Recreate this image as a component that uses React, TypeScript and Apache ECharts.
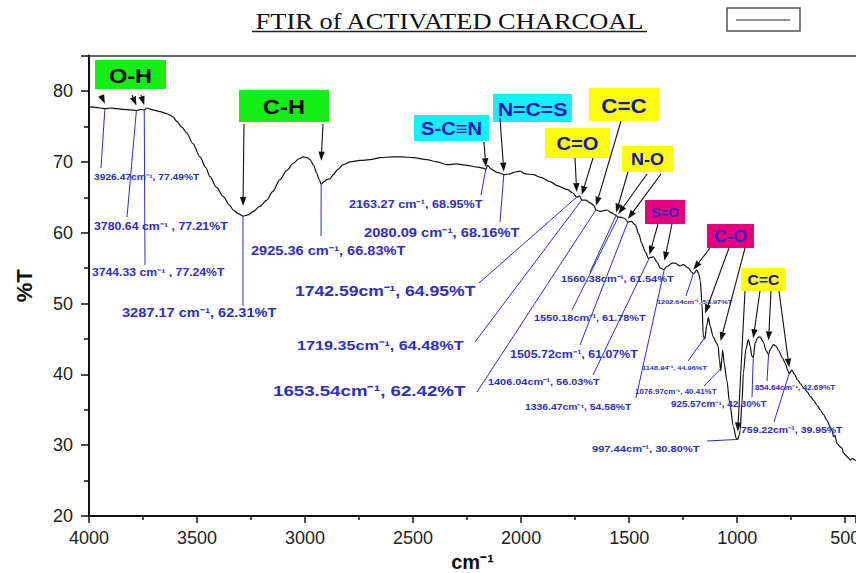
import React, { useEffect, useRef } from "react";
import * as echarts from "echarts";

// ---------- DATA ----------
const wavenumbers = [
  4000, 3970, 3949, 3926, 3900, 3870, 3840, 3810, 3780, 3760, 3744, 3733, 3700, 3671, 3640, 3625, 3610, 3594, 3570, 3548,
  3520, 3486, 3460, 3440, 3410, 3378, 3350, 3332, 3310, 3287, 3265, 3239, 3210, 3177, 3150, 3116, 3085, 3054, 3030, 3008,
  2990, 2977, 2960, 2946, 2935, 2925, 2912, 2900, 2885, 2869, 2850, 2823, 2790, 2745, 2700, 2650, 2591, 2550, 2500, 2437,
  2390, 2344, 2300, 2250, 2200, 2175, 2163, 2155, 2140, 2110, 2080, 2050, 2037, 2005, 1980, 1944, 1910, 1866, 1830, 1787,
  1760, 1742, 1730, 1719, 1700, 1680, 1665, 1653, 1634, 1620, 1603, 1580, 1565, 1550, 1542, 1520, 1505, 1490, 1472, 1455,
  1442, 1425, 1411, 1400, 1388, 1370, 1356, 1340, 1326, 1300, 1287, 1265, 1249, 1225, 1210, 1202, 1187, 1178, 1171, 1163,
  1157, 1150, 1140, 1133, 1125, 1111, 1095, 1088, 1082, 1076, 1070, 1067, 1060, 1048, 1035, 1017, 1005, 997, 990, 986,
  978, 971, 960, 948, 940, 932, 925, 917, 905, 894, 880, 865, 855, 845, 832, 820, 809, 790, 778, 765,
  759, 747, 735, 720, 708, 690, 675, 662, 645, 630, 616, 600, 585, 569, 560, 554, 547, 539, 525, 515,
  508, 495, 485, 477, 465, 454, 450,
];
const transmittance = [
  77.8, 77.7, 77.6, 77.5, 77.6, 77.5, 77.4, 77.35, 77.25, 77.4, 77.3, 77.6, 77.3, 77.1, 76.8, 76.6, 76.3, 75.7, 74.9, 74.1,
  72.6, 70.7, 69.2, 67.9, 66.4, 65.1, 63.9, 63.2, 62.7, 62.35, 62.5, 63.0, 63.7, 64.6, 65.8, 67.5, 68.8, 69.8, 70.4, 70.7,
  70.6, 70.3, 69.5, 68.4, 67.5, 66.9, 67.2, 67.5, 67.6, 68.2, 68.9, 69.6, 70.0, 70.2, 70.3, 70.6, 70.7, 70.7, 70.6, 70.3,
  70.0, 69.6, 69.7, 69.5, 69.25, 69.1, 68.95, 69.5, 69.0, 68.5, 68.2, 68.3, 68.5, 68.7, 68.3, 68.2, 67.8, 67.2, 66.6, 66.1,
  65.6, 65.0, 65.2, 64.6, 64.6, 64.2, 63.9, 63.2, 63.0, 63.1, 63.2, 62.8, 62.5, 62.2, 62.2, 62.0, 61.5, 61.6, 61.1, 59.8,
  58.5, 57.3, 56.4, 56.5, 56.6, 55.8, 55.0, 54.8, 55.2, 55.7, 55.7, 55.3, 55.5, 55.0, 54.4, 54.2, 54.7, 54.2, 53.3, 50.0,
  45.5, 45.0, 47.0, 48.0, 46.8, 45.3, 44.4, 43.9, 42.0, 40.5, 42.5, 43.4, 41.5, 39.2, 36.0, 32.6, 31.0, 30.8, 31.5, 32.1,
  36.0, 40.2, 43.5, 44.9, 44.0, 42.6, 42.4, 44.4, 45.2, 45.3, 44.6, 43.3, 42.8, 43.6, 44.2, 44.0, 43.4, 42.3, 41.6, 40.5,
  40.1, 40.6, 40.0, 39.2, 38.7, 38.0, 37.5, 36.9, 36.3, 35.6, 35.0, 34.3, 33.5, 32.6, 32.0, 31.2, 31.4, 30.3, 29.8, 29.6,
  28.9, 28.5, 28.2, 27.9, 28.1, 27.9, 27.8,
];

const peakWavenumbers = [
  3926.47, 3780.64, 3744.33, 3287.17, 2925.36, 2163.27, 2080.09, 1742.59, 1719.35, 1653.54, 1560.38,
  1550.18, 1505.72, 1406.04, 1336.47, 1202.64, 1148.94, 1076.97, 997.44, 925.57, 854.64, 759.22,
];
const peakTransmittance = [
  77.49, 77.21, 77.24, 62.31, 66.83, 68.95, 68.16, 64.95, 64.48, 62.42, 61.54,
  61.78, 61.07, 56.03, 54.58, 53.97, 44.96, 40.41, 30.8, 42.3, 42.69, 39.95,
];
const peakLabels = [
  "3926.47cm⁻¹, 77.49%T",
  "3780.64 cm⁻¹ , 77.21%T",
  "3744.33 cm⁻¹ , 77.24%T",
  "3287.17 cm⁻¹, 62.31%T",
  "2925.36 cm⁻¹, 66.83%T",
  "2163.27 cm⁻¹, 68.95%T",
  "2080.09 cm⁻¹, 68.16%T",
  "1742.59cm⁻¹, 64.95%T",
  "1719.35cm⁻¹, 64.48%T",
  "1653.54cm⁻¹, 62.42%T",
  "1560.38cm⁻¹, 61.54%T",
  "1550.18cm⁻¹, 61.78%T",
  "1505.72cm⁻¹, 61.07%T",
  "1406.04cm⁻¹, 56.03%T",
  "1336.47cm⁻¹, 54.58%T",
  "1202.64cm⁻¹, 53.97%T",
  "1148.94⁻¹, 44.96%T",
  "1076.97cm⁻¹, 40.41%T",
  "997.44cm⁻¹, 30.80%T",
  "925.57cm⁻¹, 42.30%T",
  "854.64cm⁻¹, 42.69%T",
  "759.22cm⁻¹, 39.95%T",
];
const groupNames = ["O-H", "C-H", "S-C≡N", "N=C=S", "C=C", "C=O", "N-O", "S=O", "C-O", "C=C"];
// which peaks each group box points at
const groupPeaks = [[0, 1, 2], [3, 4], [5], [6], [9], [7, 8], [10, 11, 12], [13, 14], [15, 16, 17], [18, 19, 20, 21]];

const titleText = "FTIR of ACTIVATED CHARCOAL";
const xAxisTitle = "cm⁻¹";
const yAxisTitle = "%T";

// ---------- LAYOUT (pixels) ----------
const BLUE = "#2d2dc8";
const GREEN = "#14ee14";
const CYAN = "#14eeff";
const YELLOW = "#ffff00";
const MAGENTA = "#e6007e";
const STRETCH = 1.2;
const LABEL_SCALE = 0.9;

// box: x, y, w, h, fill, text color, font size
const boxLayout = [
  [95, 60, 71, 29, GREEN, "#000", 21],
  [239, 90, 90, 32, GREEN, "#000", 21],
  [414, 115, 75, 26, CYAN, "#1414b8", 18],
  [493, 94, 79, 28, CYAN, "#1414b8", 19],
  [589, 88, 70, 33, YELLOW, "#1414b8", 20],
  [545, 128, 65, 30, YELLOW, "#1414b8", 18],
  [622, 146, 51, 26, YELLOW, "#1414b8", 16],
  [645, 200, 40, 24, MAGENTA, "#3a22c8", 12],
  [707, 224, 47, 24, MAGENTA, "#3a22c8", 16],
  [741, 268, 45, 23, YELLOW, "#1414b8", 14],
];
// arrow tails per group (pixel) and gap above the curve at the tip
const arrowTails = [
  [[101, 95], [132, 95], [141, 95]],
  [[244, 124], [323, 124]],
  [[484, 142]],
  [[500, 118]],
  [[621, 121]],
  [[575, 158], [593, 158]],
  [[628, 172], [647, 174], [661, 174]],
  [[658, 224], [672, 224]],
  [[710, 248], [729, 248], [745, 248]],
  [[745, 291], [760, 291], [771, 291], [779, 291]],
];
const arrowGaps = [
  [5, 5, 5], [10, 23], [2], [3], [4], [5, 5], [3, 3, 3], [3, 8], [4, 24, 28], [8, 19, 14, 6],
];
// leader end (pixel), label left x, label center y, font size
const labelLayout = [
  [101, 168, 94, 177, 9.5],
  [127, 217, 94, 226, 11.4],
  [145, 265, 92, 272, 11.3],
  [243, 306, 122, 313, 13.5],
  [321, 236, 251, 251, 13.5],
  [481, 195, 349, 204, 11.7],
  [500, 222, 364, 233, 13.6],
  [479, 283, 295, 291, 16.3],
  [475, 342, 297, 345, 15],
  [477, 392, 273, 391, 17.3],
  [590, 272, 561, 279, 10.2],
  [572, 310, 534, 318, 10.1],
  [580, 345, 510, 354, 11.5],
  [593, 375, 488, 382, 10.1],
  [636, 398, 525, 407, 9.6],
  [686, 296, 657, 302, 6.8],
  [688, 361, 642, 368, 6.9],
  [704, 386, 635, 392, 7.4],
  [707, 441, 592, 449, 10.3],
  [752, 397, 671, 404, 9.1],
  [767, 381, 755, 388, 7.6],
  [774, 422, 741, 430, 9.7],
];

const FONT = "'Liberation Sans', Arial, Helvetica, sans-serif";

function curveAt(wn: number): number {
  for (let i = 0; i < wavenumbers.length - 1; i++) {
    const a = wavenumbers[i];
    const b = wavenumbers[i + 1];
    if (wn <= a && wn >= b) {
      const f = (a - wn) / (a - b);
      return transmittance[i] + f * (transmittance[i + 1] - transmittance[i]);
    }
  }
  return transmittance[transmittance.length - 1];
}

export default function App() {
  const ref = useRef<HTMLDivElement>(null);

  useEffect(() => {
    if (!ref.current) return;
    const chart = echarts.init(ref.current, null, { renderer: "svg" });
    const seriesData = wavenumbers.map((w, i) => [w, transmittance[i]]);

    chart.setOption({
      animation: false,
      backgroundColor: "#ffffff",
      grid: {
        left: 89,
        right: 0,
        top: 55.6,
        bottom: 57,
        containLabel: false,
        outerBoundsMode: "none",
      },
      xAxis: [
        {
          type: "value",
          inverse: true,
          min: 450,
          max: 4000,
          splitNumber: 7,
          name: xAxisTitle,
          nameLocation: "middle",
          nameGap: 36,
          nameTextStyle: { fontFamily: FONT, fontWeight: "bold", fontSize: 20, color: "#111" },
          axisLine: { show: true, lineStyle: { color: "#111", width: 2 } },
          axisTick: { show: true, inside: false, length: 7, lineStyle: { color: "#111", width: 1.5 } },
          minorTick: { show: true, splitNumber: 2, length: 4, lineStyle: { color: "#111", width: 1.5 } },
          axisLabel: {
            fontFamily: FONT,
            fontSize: 18,
            color: "#222",
            margin: 13,
            showMinLabel: false,
            hideOverlap: false,
            formatter: (v: number) => String(v),
          },
          splitLine: { show: false },
        },
        {
          type: "value",
          position: "top",
          inverse: true,
          min: 450,
          max: 4000,
          axisLine: { show: true, lineStyle: { color: "#333", width: 1.5 } },
          axisTick: { show: false },
          axisLabel: { show: false },
          splitLine: { show: false },
        },
      ],
      yAxis: {
        type: "value",
        min: 20,
        max: 85,
        interval: 10,
        name: yAxisTitle,
        nameLocation: "middle",
        nameGap: 54,
        nameRotate: 90,
        nameTextStyle: { fontFamily: FONT, fontWeight: "bold", fontSize: 22, color: "#111" },
        axisLine: { show: true, lineStyle: { color: "#111", width: 2 } },
        axisTick: { show: true, inside: false, length: 8, lineStyle: { color: "#111", width: 1.5 } },
        minorTick: { show: true, splitNumber: 2, length: 5, lineStyle: { color: "#111", width: 1.5 } },
        axisLabel: {
          fontFamily: FONT,
          fontSize: 18,
          color: "#222",
          margin: 16,
          showMaxLabel: false,
          formatter: (v: number) => String(v),
        },
        splitLine: { show: false },
      },
      series: [
        {
          type: "line",
          data: seriesData,
          xAxisIndex: 0,
          yAxisIndex: 0,
          showSymbol: false,
          smooth: 0.3,
          smoothMonotone: "x",
          lineStyle: { color: "#111", width: 1.2 },
          silent: true,
        },
      ],
    });

    const toPx = (wn: number, t: number) =>
      chart.convertToPixel({ seriesIndex: 0 }, [wn, t]) as unknown as number[];

    const elements: any[] = [];

    // title
    elements.push({
      type: "text",
      x: 449.5,
      y: 21,
      scaleX: 1.15,
      z: 20,
      silent: true,
      style: {
        text: titleText,
        fill: "#111",
        fontFamily: "'Liberation Serif', 'Times New Roman', serif",
        fontSize: 23,
        align: "center",
        verticalAlign: "middle",
        textAlign: "center",
        textVerticalAlign: "middle",
      },
    });
    elements.push({
      type: "line",
      z: 20,
      silent: true,
      shape: { x1: 252, y1: 31.5, x2: 647, y2: 31.5 },
      style: { stroke: "#222", lineWidth: 1.5 },
    });
    // legend box
    elements.push({
      type: "rect",
      z: 20,
      silent: true,
      shape: { x: 727, y: 8, width: 73, height: 23 },
      style: { fill: "#fff", stroke: "#555", lineWidth: 1.5 },
    });
    elements.push({
      type: "line",
      z: 21,
      silent: true,
      shape: { x1: 736, y1: 20, x2: 790, y2: 20 },
      style: { stroke: "#222", lineWidth: 1 },
    });

    // leader lines + labels
    peakWavenumbers.forEach((wn, i) => {
      const p = toPx(wn, curveAt(wn));
      const [ex, ey, lx, ly, fs] = labelLayout[i];
      elements.push({
        type: "line",
        z: 15,
        silent: true,
        shape: { x1: p[0], y1: p[1], x2: ex, y2: ey },
        style: { stroke: BLUE, lineWidth: 1 },
      });
      elements.push({
        type: "text",
        x: lx,
        y: ly,
        scaleX: STRETCH,
        z: 16,
        silent: true,
        style: {
          text: peakLabels[i],
          fill: BLUE,
          fontFamily: FONT,
          fontWeight: "bold",
          fontSize: fs * LABEL_SCALE,
          align: "left",
          verticalAlign: "middle",
          textAlign: "left",
          textVerticalAlign: "middle",
        },
      });
    });

    // group boxes + arrows
    groupNames.forEach((name, g) => {
      const [bx, by, bw, bh, fill, tc, fs] = boxLayout[g] as [number, number, number, number, string, string, number];
      elements.push({
        type: "rect",
        z: 17,
        silent: true,
        shape: { x: bx, y: by, width: bw, height: bh },
        style: { fill },
      });
      elements.push({
        type: "text",
        x: bx + bw / 2,
        y: by + bh / 2 + 1,
        scaleX: 1.12,
        z: 18,
        silent: true,
        style: {
          text: name,
          fill: tc,
          fontFamily: FONT,
          fontWeight: "bold",
          fontSize: fs,
          align: "center",
          verticalAlign: "middle",
          textAlign: "center",
          textVerticalAlign: "middle",
        },
      });
      groupPeaks[g].forEach((pi, k) => {
        const wn = peakWavenumbers[pi];
        const p = toPx(wn, curveAt(wn));
        const tip = [p[0], p[1] - arrowGaps[g][k]];
        const tail = arrowTails[g][k];
        const dx = tip[0] - tail[0];
        const dy = tip[1] - tail[1];
        const len = Math.sqrt(dx * dx + dy * dy) || 1;
        const ux = dx / len;
        const uy = dy / len;
        const headL = Math.min(9, len);
        const headW = 3.2;
        const bxp = tip[0] - ux * headL;
        const byp = tip[1] - uy * headL;
        elements.push({
          type: "line",
          z: 18,
          silent: true,
          shape: { x1: tail[0], y1: tail[1], x2: bxp, y2: byp },
          style: { stroke: "#111", lineWidth: 1.1 },
        });
        elements.push({
          type: "polygon",
          z: 18,
          silent: true,
          shape: {
            points: [
              [tip[0], tip[1]],
              [bxp - uy * headW, byp + ux * headW],
              [bxp + uy * headW, byp - ux * headW],
            ],
          },
          style: { fill: "#111" },
        });
      });
    });

    chart.setOption({ graphic: { elements } });

    return () => {
      chart.dispose();
    };
  }, []);

  return (
    <div
      ref={ref}
      style={{ position: "absolute", left: 0, top: 0, width: 856, height: 573, background: "#fff" }}
    />
  );
}
